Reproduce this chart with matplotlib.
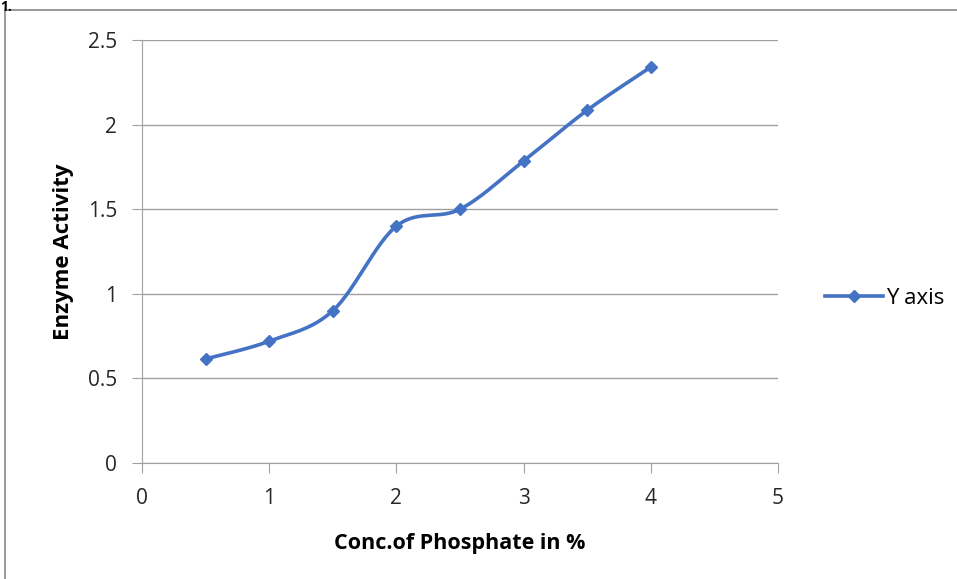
import matplotlib.pyplot as plt
import numpy as np
from matplotlib.patches import Rectangle

conc = [0.5, 1.0, 1.5, 2.0, 2.5, 3.0, 3.5, 4.0]
activity = [0.615, 0.72, 0.90, 1.40, 1.50, 1.785, 2.085, 2.34]
series_name = 'Y axis'
blue = '#4472C4'


def smooth(xs, ys, n=30):
    # Excel-like smoothed line (Catmull-Rom Bezier through the points)
    p = np.column_stack([xs, ys])
    pts = np.vstack([p[0], p, p[-1]])
    out = []
    for i in range(1, len(pts) - 2):
        p0, p1, p2, p3 = pts[i - 1], pts[i], pts[i + 1], pts[i + 2]
        c1 = p1 + (p2 - p0) / 6
        c2 = p2 - (p3 - p1) / 6
        t = np.linspace(0, 1, n)[:, None]
        seg = ((1 - t) ** 3) * p1 + 3 * ((1 - t) ** 2) * t * c1 + 3 * (1 - t) * t ** 2 * c2 + t ** 3 * p2
        out.append(seg)
    c = np.vstack(out)
    return c[:, 0], c[:, 1]


plt.rcParams['font.family'] = ['Open Sans', 'DejaVu Sans']

fig = plt.figure(figsize=(9.57, 5.79), dpi=100)
fig.patches.append(Rectangle((5 / 957, -0.01), 1.0, 1 - 10 / 579 + 0.01, transform=fig.transFigure,
                             fill=False, edgecolor='#888888', linewidth=1.2))
fig.text(0.0, 1.0, '1.', fontsize=10, fontweight='bold', va='top', ha='left')

ax = fig.add_axes([142 / 957, 1 - 463 / 579, (778 - 142) / 957, (463 - 40) / 579])

sx, sy = smooth(conc, activity)
ax.plot(sx, sy, color=blue, linewidth=2.6, zorder=3)
ax.plot(conc, activity, linestyle='none', marker='D', markersize=6.5, color=blue, zorder=4)
ax.plot([], [], color=blue, linewidth=2.6, marker='D', markersize=6.5, label=series_name)

ax.set_xlim(0, 5)
ax.set_ylim(0, 2.5)
ax.set_xticks(range(0, 6))
ax.set_yticks([0, 0.5, 1, 1.5, 2, 2.5])
ax.set_yticklabels(['0', '0.5', '1', '1.5', '2', '2.5'])
ax.grid(axis='y', color='#a0a0a0', linewidth=1.0)
ax.set_axisbelow(True)
for s in ['top', 'right']:
    ax.spines[s].set_visible(False)
for s in ['left', 'bottom']:
    ax.spines[s].set_color('#a0a0a0')
ax.tick_params(axis='both', colors='#a0a0a0', length=7, labelsize=15, labelcolor='#262626')
ax.tick_params(axis='x', pad=11)
ax.tick_params(axis='y', pad=11)

ax.set_xlabel('Conc.of Phosphate in %', fontsize=15.5, fontweight='bold', labelpad=17)
ax.set_ylabel('Enzyme Activity', fontsize=16, fontweight='bold', labelpad=10)

ax.legend(loc='center left', bbox_to_anchor=(1.043, 0.39), frameon=False, fontsize=16,
          handlelength=2.6, handletextpad=0.15)

fig.savefig('out.png', dpi=100)
